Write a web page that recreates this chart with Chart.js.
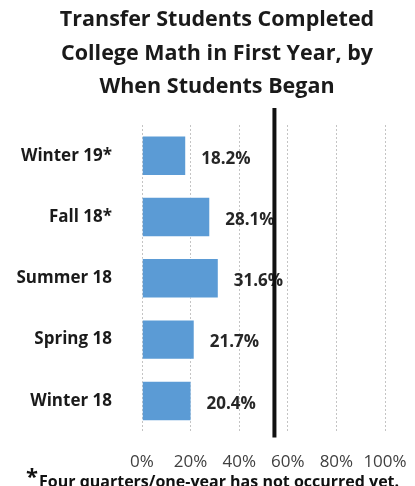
<!DOCTYPE html>
<html>
<head>
<meta charset="utf-8">
<script src="https://cdn.jsdelivr.net/npm/chart.js@4"></script>
<style>
  html, body { margin: 0; padding: 0; background: #fff; }
  #wrap { width: 415px; height: 486px; position: relative; }
</style>
</head>
<body>
<div id="wrap"><canvas id="mathChart"></canvas></div>
<script>
// data
const terms = ['Winter 19*', 'Fall 18*', 'Summer 18', 'Spring 18', 'Winter 18'];
const completedPct = [18.2, 28.1, 31.6, 21.7, 20.4];
const benchmarkPct = 54.5;
const xTicks = [0, 20, 40, 60, 80, 100];
const titleLines = ['Transfer Students Completed', 'College Math in First Year, by', 'When Students Began'];
const footnote = 'Four quarters/one-year has not occurred yet.';

const FONT = '"Open Sans", Lato, sans-serif';

// value labels to the right of each bar
const valueLabels = {
    id: 'valueLabels',
    afterDatasetsDraw(chart) {
        const ctx = chart.ctx;
        const meta = chart.getDatasetMeta(0);
        ctx.save();
        ctx.font = 'bold 17px ' + FONT;
        ctx.fillStyle = '#262626';
        ctx.textAlign = 'left';
        ctx.textBaseline = 'middle';
        meta.data.forEach((bar, i) => {
            ctx.fillText(completedPct[i].toFixed(1) + '%', bar.x + 15, bar.y + 3);
        });
        ctx.restore();
    }
};

// title, thick black benchmark line, footnote
const extras = {
    id: 'extras',
    afterDraw(chart) {
        const ctx = chart.ctx;
        const area = chart.chartArea;
        const x = chart.scales.x.getPixelForValue(benchmarkPct);
        ctx.save();
        ctx.fillStyle = '#1a1a1a';
        ctx.font = 'bold 21.5px ' + FONT;
        ctx.textAlign = 'center';
        ctx.textBaseline = 'middle';
        titleLines.forEach((t, i) => ctx.fillText(t, 217, 20 + i * 33.5));

        ctx.strokeStyle = '#111';
        ctx.lineWidth = 4;
        ctx.beginPath();
        ctx.moveTo(x, area.top - 17);
        ctx.lineTo(x, area.bottom + 6);
        ctx.stroke();

        ctx.fillStyle = '#111';
        ctx.textAlign = 'left';
        ctx.textBaseline = 'alphabetic';
        ctx.font = 'bold 22px ' + FONT;
        ctx.fillText('*', 26, 484);
        ctx.font = 'bold 16px ' + FONT;
        ctx.fillText(footnote, 39, 487);
        ctx.restore();
    }
};

new Chart(document.getElementById('mathChart'), {
    type: 'bar',
    data: {
        labels: terms,
        datasets: [{
            data: completedPct,
            backgroundColor: '#5b9bd5',
            borderColor: '#ffffff',
            borderWidth: 1,
            categoryPercentage: 0.66,
            barPercentage: 1
        }]
    },
    options: {
        indexAxis: 'y',
        responsive: true,
        maintainAspectRatio: false,
        animation: false,
        layout: { padding: { left: 0, right: 30, top: 125, bottom: 12 } },
        plugins: {
            legend: { display: false },
            tooltip: { enabled: false },
            title: { display: false }
        },
        scales: {
            x: {
                min: 0,
                max: 100,
                afterBuildTicks: (axis) => { axis.ticks = xTicks.map(v => ({ value: v })); },
                grid: {
                    color: '#c4c4c4',
                    drawTicks: true,
                    tickLength: 18,
                    tickColor: 'rgba(0,0,0,0)'
                },
                border: { display: false, dash: [2, 2] },
                ticks: {
                    padding: 2,
                    maxRotation: 0,
                    minRotation: 0,
                    autoSkip: false,
                    color: '#404040',
                    font: { family: FONT, size: 17 },
                    callback: (v) => v + '%'
                }
            },
            y: {
                afterFit: (axis) => { axis.width = 142; },
                grid: { display: false },
                border: { display: false },
                ticks: {
                    padding: 22,
                    color: '#1a1a1a',
                    font: { family: FONT, size: 17, weight: 'bold' }
                }
            }
        }
    },
    plugins: [valueLabels, extras]
});
</script>
</body>
</html>
